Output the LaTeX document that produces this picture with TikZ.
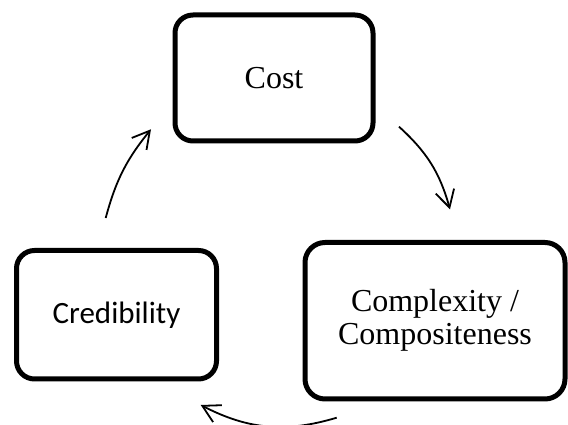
\documentclass[tikz,border=0pt]{standalone}
\usepackage{fontspec}
\setmainfont{Liberation Serif}
\newfontfamily\calibrifont{Carlito}
\usetikzlibrary{arrows.meta}
\tikzset{
  cyclebox/.style={draw=black, line width=5pt, rounded corners=18pt, fill=white, inner sep=0pt, align=center},
  serifsize/.style={font=\fontsize{32}{33}\selectfont},
  sanssize/.style={font=\calibrifont\fontsize{31}{33}\selectfont},
  cyclearrow/.style={line width=1.8pt, -{Straight Barb[length=17pt,width=19pt,line width=1.8pt]}}
}
\begin{document}
\begin{tikzpicture}[x=1pt,y=1pt]
\useasboundingbox (0,0) rectangle (568,425);
\node[cyclebox, serifsize, minimum width=198pt, minimum height=126pt] (cost) at (274,347) {Cost};
\node[cyclebox, sanssize, minimum width=200pt, minimum height=128.5pt] (cred) at (116.5,110.25) {Credibility};
\node[cyclebox, serifsize, minimum width=260pt, minimum height=156.5pt, rounded corners=20pt] (cplx) at (435,104.25) {Complexity /\\Compositeness};
\coordinate (a1s) at (399,298.3);
\coordinate (a1e) at (450,215.7);
\coordinate (a2s) at (336.7,7.3);
\coordinate (a2e) at (200.7,20);
\coordinate (a3s) at (105.7,207);
\coordinate (a3e) at (151,295.7);
\draw[cyclearrow] (a1s) to[bend left=16] (a1e);
\draw[cyclearrow] (a2s) to[bend left=22] (a2e);
\draw[cyclearrow] (a3s) to[bend left=12] (a3e);
\end{tikzpicture}
\end{document}
